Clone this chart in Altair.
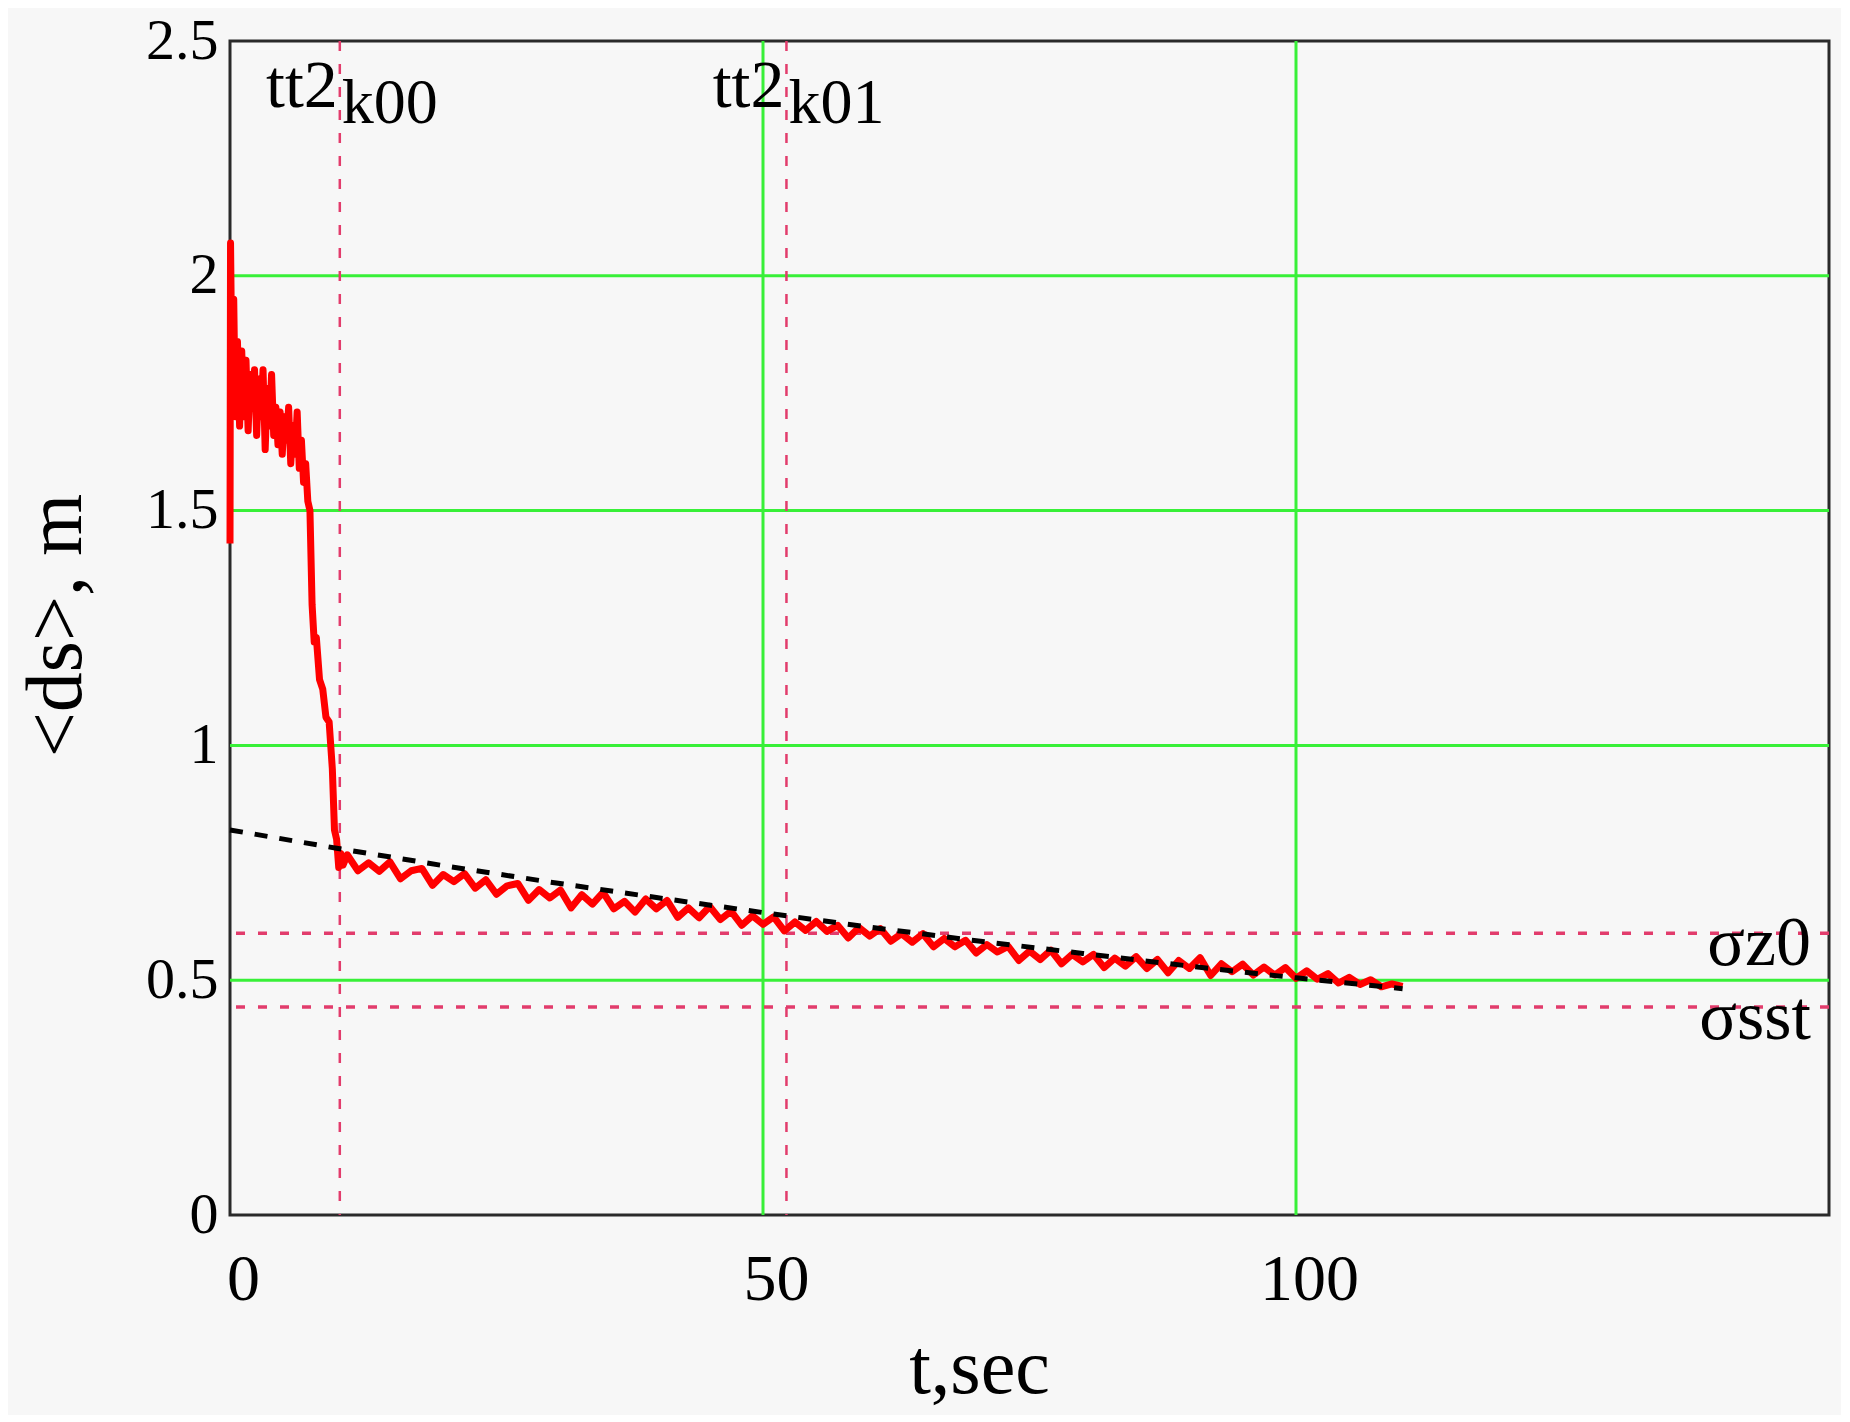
import altair as alt
import pandas as pd

# ---- data ----
early_t = [0, 0.05, 0.2, 0.35, 0.5, 0.7, 0.9, 1.1, 1.3, 1.5, 1.7, 1.9, 2.1, 2.3, 2.5,
           2.7, 2.9, 3.1, 3.3, 3.5, 3.7, 3.9, 4.1, 4.3, 4.5, 4.7, 4.9, 5.1, 5.3, 5.5,
           5.7, 5.9, 6.1, 6.3, 6.5, 6.7, 6.9, 7.1, 7.3, 7.5, 7.7, 7.9, 8.1, 8.4, 8.7,
           9.0, 9.3, 9.6, 9.8, 10.0, 10.2, 10.4, 10.6]
early_v = [1.43, 2.07, 1.75, 1.95, 1.70, 1.86, 1.68, 1.84, 1.70, 1.82, 1.67, 1.79, 1.72, 1.80, 1.66,
           1.78, 1.70, 1.80, 1.63, 1.76, 1.68, 1.79, 1.66, 1.72, 1.64, 1.71, 1.62, 1.70, 1.65, 1.72,
           1.60, 1.68, 1.62, 1.71, 1.59, 1.65, 1.56, 1.60, 1.52, 1.50, 1.30, 1.22, 1.23, 1.14, 1.12,
           1.06, 1.05, 0.95, 0.82, 0.80, 0.74, 0.77, 0.745]

tail_t = list(range(11, 111))
tail_v = [0.767, 0.733, 0.750, 0.732, 0.752, 0.716, 0.733, 0.738, 0.702, 0.725,
          0.710, 0.727, 0.696, 0.714, 0.683, 0.701, 0.706, 0.670, 0.693, 0.675,
          0.692, 0.654, 0.682, 0.662, 0.687, 0.652, 0.668, 0.645, 0.673, 0.652,
          0.670, 0.634, 0.654, 0.633, 0.657, 0.629, 0.647, 0.617, 0.637, 0.619,
          0.635, 0.605, 0.624, 0.606, 0.625, 0.604, 0.617, 0.590, 0.612, 0.594,
          0.610, 0.583, 0.599, 0.581, 0.599, 0.571, 0.589, 0.571, 0.585, 0.558,
          0.576, 0.560, 0.572, 0.542, 0.562, 0.544, 0.564, 0.535, 0.555, 0.539,
          0.555, 0.527, 0.547, 0.530, 0.550, 0.525, 0.544, 0.516, 0.542, 0.525,
          0.548, 0.510, 0.535, 0.518, 0.534, 0.511, 0.528, 0.511, 0.527, 0.504,
          0.520, 0.502, 0.514, 0.494, 0.506, 0.491, 0.501, 0.486, 0.492, 0.487]

fit_t = [0, 10, 20, 30, 40, 50, 60, 70, 80, 90, 100, 110]
fit_v = [0.820, 0.781, 0.744, 0.709, 0.676, 0.644, 0.613, 0.584, 0.557, 0.530, 0.505, 0.482]

marker_t = [10.3, 52.2]
marker_sub = ["k00", "k01"]
marker_main = ["tt2", "tt2"]

level_v = [0.600, 0.443]
level_names = ["σz0", "σsst"]

x_ticks = [0, 50, 100]
y_ticks = [0, 0.5, 1, 1.5, 2, 2.5]
x_grid = [50, 100]
y_grid = [0.5, 1, 1.5, 2]

# ---- tables ----
red_df = pd.DataFrame({"t": early_t + tail_t, "v": early_v + tail_v})
fit_df = pd.DataFrame({"t": fit_t, "v": fit_v})
mark_df = pd.DataFrame({"t": marker_t, "v": [2.5, 2.5], "main": marker_main, "sub": marker_sub})
lev_df = pd.DataFrame({"t": [150, 150], "v": level_v, "name": level_names})
gx_df = pd.DataFrame({"t": x_grid})
gy_df = pd.DataFrame({"v": y_grid})

FONT = "Liberation Serif"
GREEN = "#38f038"
PINK = "#e23c6c"

xs = alt.Scale(domain=[0, 150], nice=False, zero=False)
ys = alt.Scale(domain=[0, 2.5], nice=False, zero=False)

xaxis = alt.Axis(values=x_ticks, grid=False, ticks=False, domain=False, labelFont=FONT,
                 labelFontSize=66, labelColor="black",
                 labelPadding=32, labelOffset=13, labelFlush=False, labelOverlap=False,
                 title="t,sec", titleFont=FONT, titleFontSize=78, titleFontWeight="normal",
                 titleColor="black", titleX=749, titleY=177, titleBaseline="alphabetic")
yaxis = alt.Axis(values=y_ticks, labelExpr="datum.value", grid=False, ticks=False, domain=False,
                 labelFont=FONT, labelFontSize=58,
                 labelColor="black", labelPadding=12, labelFlush=False, labelOverlap=False,
                 title="<ds>, m", titleFont=FONT, titleFontSize=80, titleFontWeight="normal",
                 titleColor="black", titleX=-150, titleY=584, titleBaseline="alphabetic",
                 titleAlign="center")

X = alt.X("t:Q", scale=xs, axis=xaxis)
Y = alt.Y("v:Q", scale=ys, axis=yaxis)

gridx = alt.Chart(gx_df).mark_rule(color=GREEN, strokeWidth=3).encode(x=X)
gridy = alt.Chart(gy_df).mark_rule(color=GREEN, strokeWidth=3).encode(y=Y)

vrules = alt.Chart(mark_df).mark_rule(color=PINK, strokeWidth=2.5, strokeDash=[10, 13]).encode(x=X)
hrules = alt.Chart(lev_df).mark_rule(color=PINK, strokeWidth=3.5, strokeDash=[9, 13]).encode(y=Y)

red = alt.Chart(red_df).mark_line(color="#ff0000", strokeWidth=7, strokeJoin="round").encode(x=X, y=Y)
fit = alt.Chart(fit_df).mark_line(color="black", strokeWidth=5, strokeDash=[13, 12]).encode(x=X, y=Y)

main_lbl = alt.Chart(mark_df).mark_text(font=FONT, fontSize=68, color="black", align="right",
                                        baseline="alphabetic", dx=-2, dy=66).encode(x=X, y=Y, text="main:N")
sub_lbl = alt.Chart(mark_df).mark_text(font=FONT, fontSize=64, color="black", align="left",
                                       baseline="alphabetic", dx=2, dy=82).encode(x=X, y=Y, text="sub:N")
lev_lbl = alt.Chart(lev_df).mark_text(font=FONT, fontSize=70, color="black", align="right",
                                      baseline="alphabetic", dx=-18, dy=32).encode(x=X, y=Y, text="name:N")

chart = alt.layer(gridx, gridy, vrules, hrules, red, fit, main_lbl, sub_lbl, lev_lbl).properties(
    width=1599, height=1174,
    autosize=alt.AutoSizeParams(type="none"),
    padding={"left": 222, "top": 33, "right": 12, "bottom": 200},
    background="#f7f7f7",
).configure_view(stroke="#2a2a2a", strokeWidth=3, fill="#f7f7f7")

chart.save("out.html", embed_options={"renderer": "svg", "actions": False})
